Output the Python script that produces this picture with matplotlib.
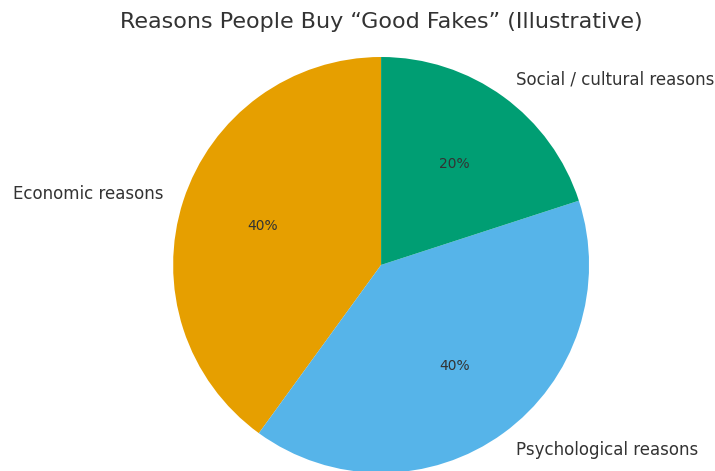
import matplotlib.pyplot as plt

labels = ["Economic reasons", "Psychological reasons", "Social / cultural reasons"]
shares = [40, 40, 20]
colors = ["#E69F00", "#56B4E9", "#009E73"]

fig = plt.figure(figsize=(7.15, 4.71), dpi=100)
ax = fig.add_axes([0.242, -0.004, 0.582, 0.883])

wedges, texts, autotexts = ax.pie(
    shares,
    labels=labels,
    colors=colors,
    startangle=90,
    autopct="%1.0f%%",
    pctdistance=0.6,
    labeldistance=1.1,
    textprops={"fontsize": 12, "color": "#333333"},
)
for t in autotexts:
    t.set_fontsize(10)
ax.set_xlim(-1, 1)
ax.set_ylim(-1, 1)
ax.set_aspect("equal")

fig.text(0.533, 0.953, "Reasons People Buy \u201cGood Fakes\u201d (Illustrative)",
         ha="center", va="center", fontsize=16, color="#333333")

plt.savefig("out.png", dpi=100)
